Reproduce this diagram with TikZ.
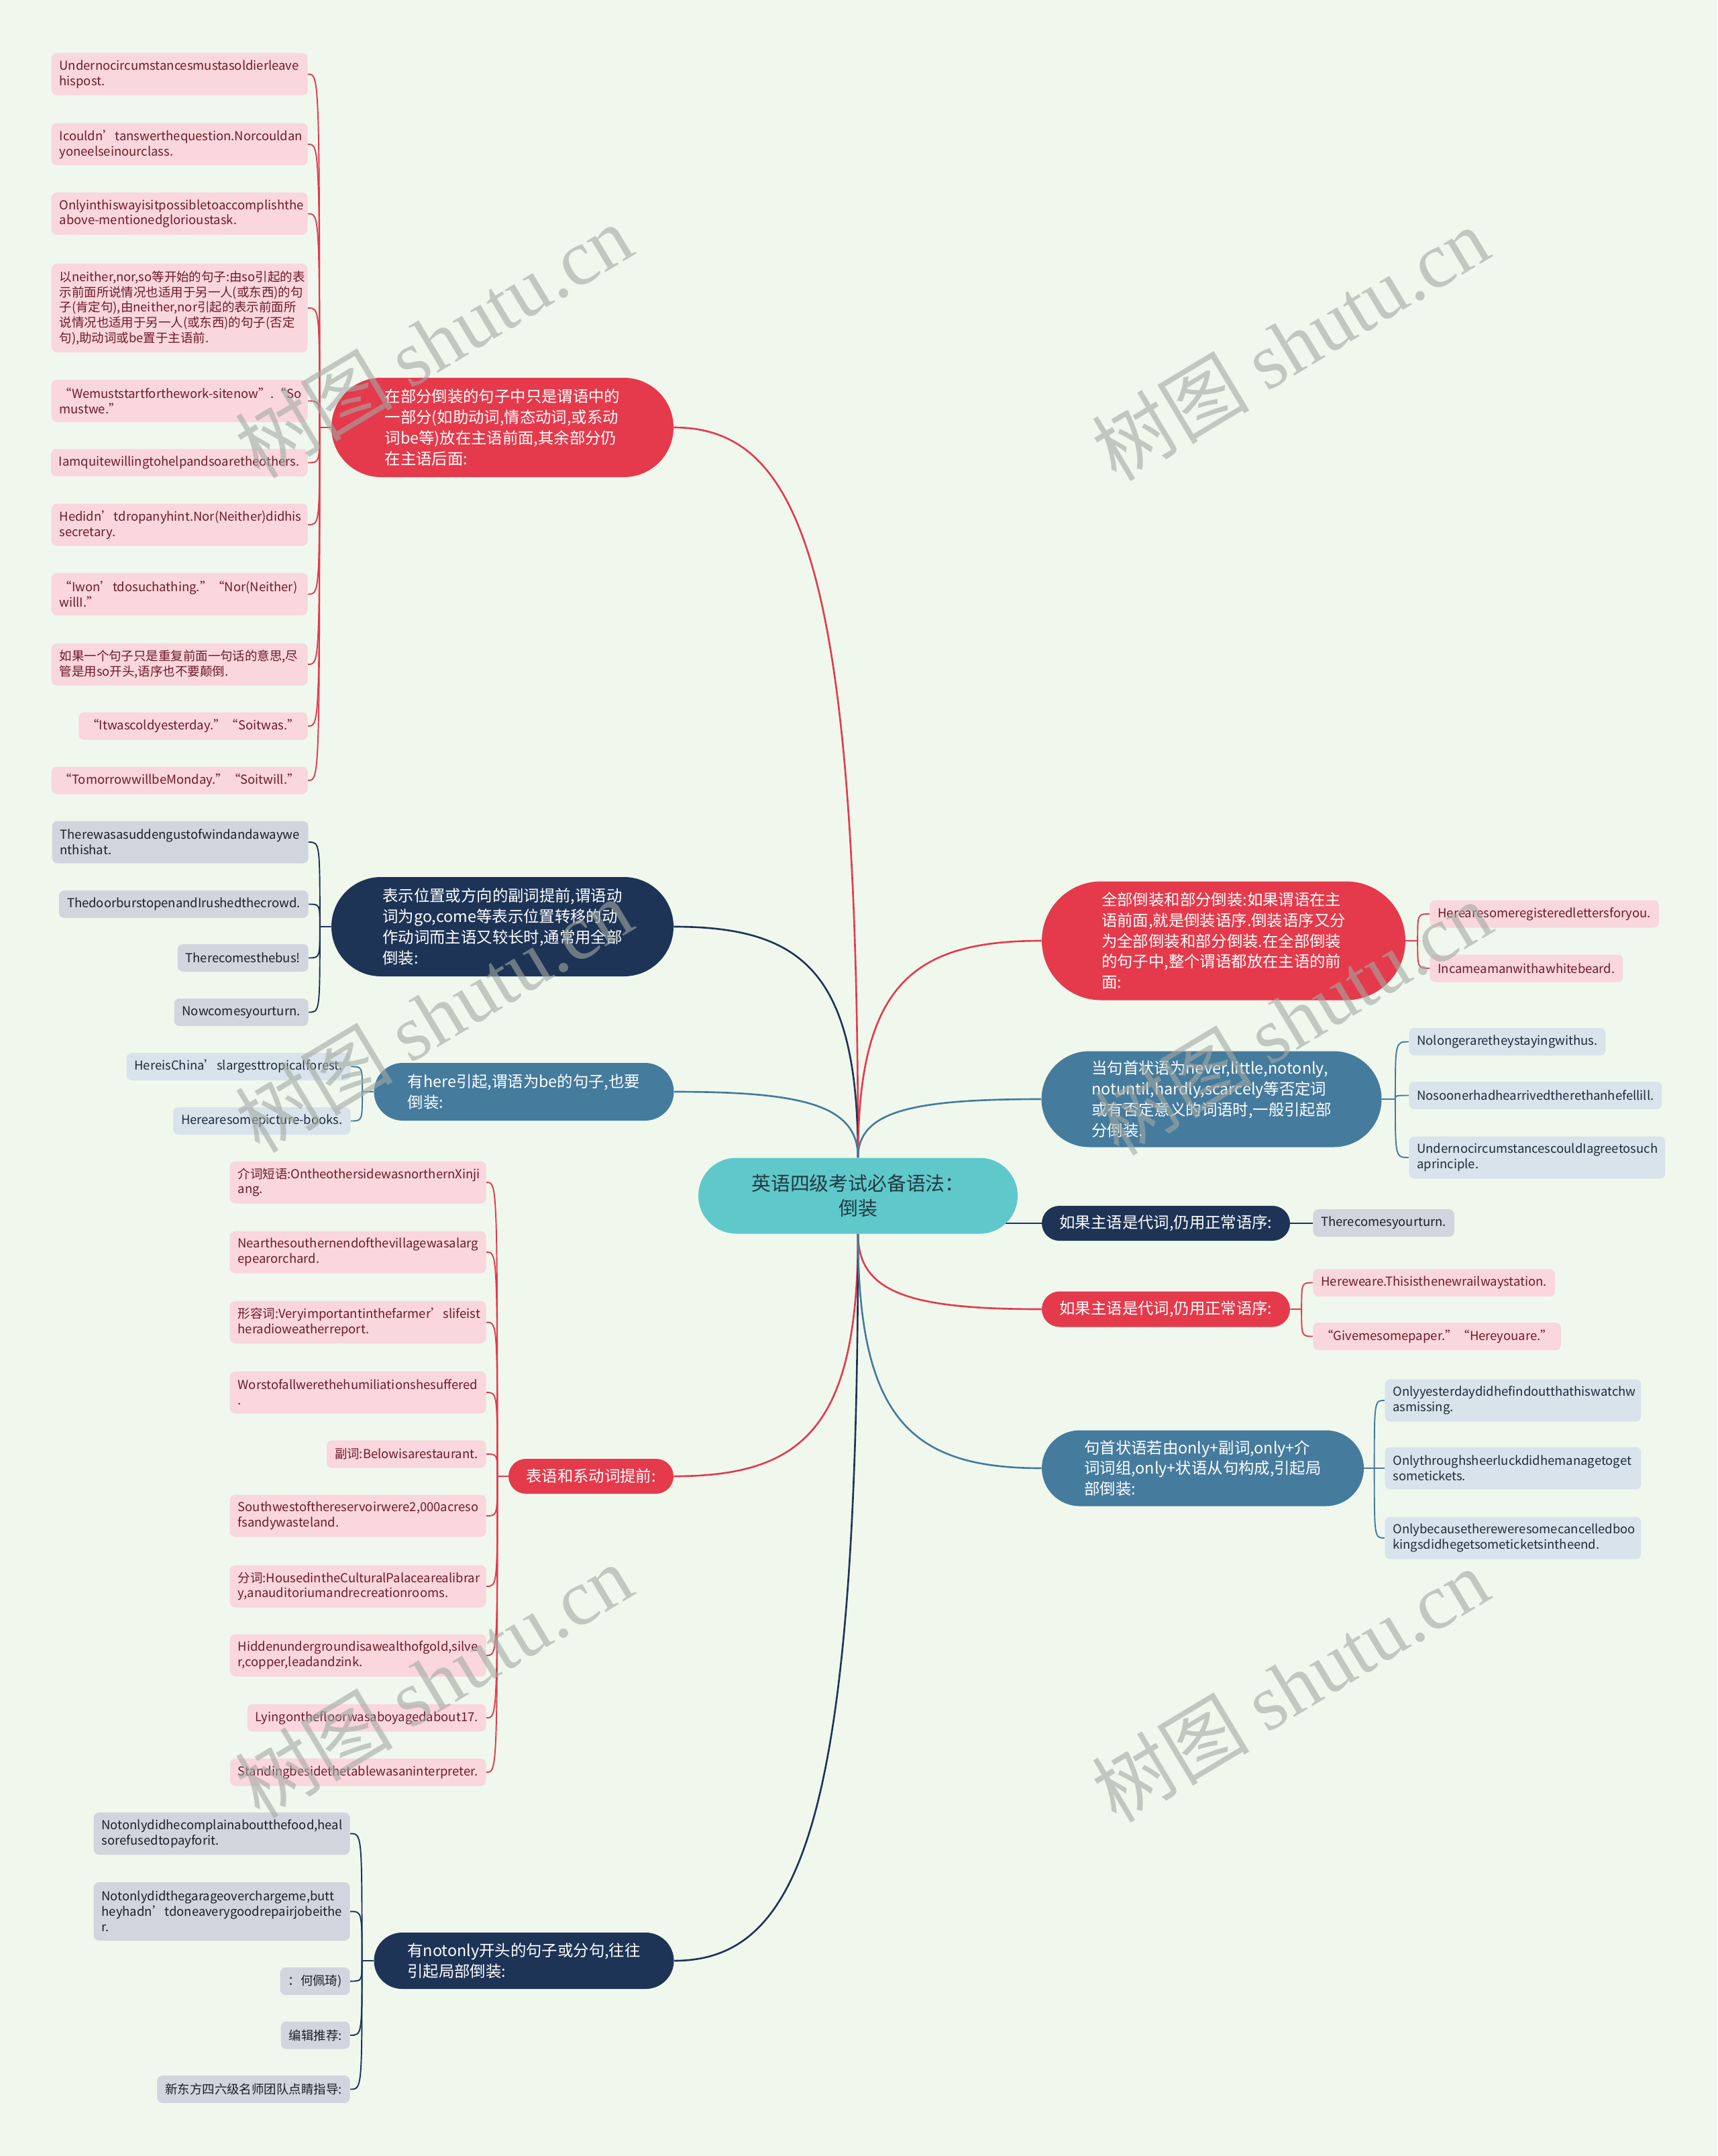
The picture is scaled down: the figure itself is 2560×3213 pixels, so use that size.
\documentclass[tikz,border=0pt]{standalone}
\usepackage{fontspec}
\setmainfont{Noto Sans CJK SC}
\newfontfamily\wmlatin{Liberation Serif}
\usetikzlibrary{calc, shapes.misc, backgrounds}

\definecolor{bgColour}{HTML}{F0F8EE}
\definecolor{rootColour}{HTML}{5FC8CB}
\definecolor{rootText}{HTML}{233A40}
\definecolor{redColour}{HTML}{E43A4B}
\definecolor{navyColour}{HTML}{1E3456}
\definecolor{steelColour}{HTML}{457B9D}
\definecolor{pinkFill}{HTML}{F9D7DC}
\definecolor{pinkText}{HTML}{6D1A28}
\definecolor{grayFill}{HTML}{D1D6DE}
\definecolor{grayText}{HTML}{1B1E28}
\definecolor{blueFill}{HTML}{D9E3EB}
\definecolor{blueText}{HTML}{1C2B3A}
\definecolor{wmColour}{HTML}{A3A9A3}

\newcommand\leaffont{\fontsize{10.5pt}{13pt}\selectfont\hyphenpenalty=10000\exhyphenpenalty=10000\relax}
\newcommand\topicfont{\fontsize{13.3pt}{17.6pt}\selectfont}
\newcommand\rootfont{\fontsize{16.4pt}{21.5pt}\selectfont}
\newcommand\wmfont{\fontsize{67pt}{70pt}\selectfont}

\tikzset{
  rootnode/.style={rounded rectangle, fill=rootColour, text=rootText, font=\rootfont,
    align=center, inner sep=0pt, minimum width=95.2mm, minimum height=22.6mm},
  topic/.style={rounded rectangle, text=white, font=\topicfont, align=left, inner sep=0pt},
  leaf/.style={rectangle, rounded corners=1.6mm, font=\leaffont, align=left,
    inner xsep=2.4mm, inner ysep=0pt, minimum height=8.2mm},
  wide/.style={text width=71.6mm},
  twoline/.style={minimum height=12.6mm},
  threeline/.style={minimum height=17.4mm},
  pinkleaf/.style={leaf, fill=pinkFill, text=pinkText},
  grayleaf/.style={leaf, fill=grayFill, text=grayText},
  blueleaf/.style={leaf, fill=blueFill, text=blueText},
  trunk/.style={line width=1.5pt},
  twig/.style={line width=1.1pt},
  watermark/.style={text=wmColour, opacity=0.6, rotate=31, font=\wmfont}
}

\begin{document}
\begin{tikzpicture}[x=0.2mm, y=-0.2mm]
    \useasboundingbox (0,0) rectangle (2560,3213);

    % Root
    \node[rootnode] (C) at (1279,1782) {英语四级考试必备语法：\\倒装};

    % Topics, left side
    \node[topic, fill=redColour, minimum width=102mm, minimum height=29.6mm] (L1) at (749,637)
        {在部分倒装的句子中只是谓语中的\\一部分(如助动词,情态动词,或系动\\词be等)放在主语前面,其余部分仍\\在主语后面:};
    \node[topic, fill=navyColour, minimum width=102mm, minimum height=29.6mm] (L2) at (749,1381)
        {表示位置或方向的副词提前,谓语动\\词为go,come等表示位置转移的动\\作动词而主语又较长时,通常用全部\\倒装:};
    \node[topic, fill=steelColour, minimum width=89.4mm, minimum height=17.2mm] (L3) at (781,1627)
        {有here引起,谓语为be的句子,也要\\倒装:};
    \node[topic, fill=redColour, minimum width=49.2mm, minimum height=10.4mm] (L4) at (881,2200)
        {表语和系动词提前:};
    \node[topic, fill=navyColour, minimum width=89.4mm, minimum height=16.8mm] (L5) at (781,2922)
        {有notonly开头的句子或分句,往往\\引起局部倒装:};

    % Topics, right side
    \node[topic, fill=redColour, minimum width=108.4mm, minimum height=35.4mm] (R1) at (1824,1402)
        {全部倒装和部分倒装:如果谓语在主\\语前面,就是倒装语序.倒装语序又分\\为全部倒装和部分倒装.在全部倒装\\的句子中,整个谓语都放在主语的前\\面:};
    \node[topic, fill=steelColour, minimum width=101.4mm, minimum height=28.6mm] (R2) at (1806,1638)
        {当句首状语为never,little,notonly,\\notuntil,hardly,scarcely等否定词\\或有否定意义的词语时,一般引起部\\分倒装.};
    \node[topic, fill=navyColour, minimum width=74mm, minimum height=10.4mm] (R3) at (1738,1823)
        {如果主语是代词,仍用正常语序:};
    \node[topic, fill=redColour, minimum width=74mm, minimum height=10.6mm] (R4) at (1738,1951)
        {如果主语是代词,仍用正常语序:};
    \node[topic, fill=steelColour, minimum width=96mm, minimum height=22.6mm] (R5) at (1793,2188)
        {句首状语若由only+副词,only+介\\词词组,only+状语从句构成,引起局\\部倒装:};

    % Leaves of L1
    \node[pinkleaf, wide, twoline, anchor=east] (a1) at (459,110.5) {Undernocircumstancesmustasoldierleave\\hispost.};
    \node[pinkleaf, wide, twoline, anchor=east] (a2) at (459,215) {Icouldn’tanswerthequestion.Norcouldan\\yoneelseinourclass.};
    \node[pinkleaf, wide, twoline, anchor=east] (a3) at (459,318.5) {Onlyinthiswayisitpossibletoaccomplishthe\\above-mentionedglorioustask.};
    \node[pinkleaf, wide, minimum height=26.4mm, anchor=east] (a4) at (459,459)
        {以neither,nor,so等开始的句子:由so引起的表\\示前面所说情况也适用于另一人(或东西)的句\\子(肯定句),由neither,nor引起的表示前面所\\说情况也适用于另一人(或东西)的句子(否定\\句),助动词或be置于主语前.};
    \node[pinkleaf, wide, twoline, anchor=east] (a5) at (459,597.5) {\mbox{“Wemuststartforthework-sitenow”.“So}\\mustwe.”};
    \node[pinkleaf, anchor=east] (a6) at (459,689.5) {Iamquitewillingtohelpandsoaretheothers.};
    \node[pinkleaf, wide, twoline, anchor=east] (a7) at (459,782) {Hedidn’tdropanyhint.Nor(Neither)didhis\\secretary.};
    \node[pinkleaf, wide, twoline, anchor=east] (a8) at (459,885.5) {“Iwon’tdosuchathing.”“Nor(Neither)\\willI.”};
    \node[pinkleaf, wide, twoline, anchor=east] (a9) at (459,990) {如果一个句子只是重复前面一句话的意思,尽\\管是用so开头,语序也不要颠倒.};
    \node[pinkleaf, anchor=east] (a10) at (459,1082) {“Itwascoldyesterday.”“Soitwas.”};
    \node[pinkleaf, anchor=east] (a11) at (459,1163) {“TomorrowwillbeMonday.”“Soitwill.”};

    % Leaves of L2
    \node[grayleaf, wide, twoline, anchor=east] (b1) at (460,1255) {Therewasasuddengustofwindandawaywe\\nthishat.};
    \node[grayleaf, anchor=east] (b2) at (460,1347.5) {ThedoorburstopenandIrushedthecrowd.};
    \node[grayleaf, anchor=east] (b3) at (460,1427.5) {Therecomesthebus!};
    \node[grayleaf, anchor=east] (b4) at (460,1508.5) {Nowcomesyourturn.};

    % Leaves of L3
    \node[blueleaf, anchor=east] (c1) at (523,1589.5) {HereisChina’slargesttropicalforest.};
    \node[blueleaf, anchor=east] (c2) at (523,1670.5) {Herearesomepicture-books.};

    % Leaves of L4
    \node[pinkleaf, wide, twoline, anchor=east] (d1) at (725,1762) {介词短语:OntheothersidewasnorthernXinji\\ang.};
    \node[pinkleaf, wide, twoline, anchor=east] (d2) at (725,1866) {Nearthesouthernendofthevillagewasalarg\\epearorchard.};
    \node[pinkleaf, wide, twoline, anchor=east] (d3) at (725,1970.5) {形容词:Veryimportantinthefarmer’slifeist\\heradioweatherreport.};
    \node[pinkleaf, wide, twoline, anchor=east] (d4) at (725,2075) {Worstofallwerethehumiliationshesuffered\\.};
    \node[pinkleaf, anchor=east] (d5) at (725,2167) {副词:Belowisarestaurant.};
    \node[pinkleaf, wide, twoline, anchor=east] (d6) at (725,2259) {Southwestofthereservoirwere2,000acreso\\fsandywasteland.};
    \node[pinkleaf, wide, twoline, anchor=east] (d7) at (725,2364) {分词:HousedintheCulturalPalacearealibrar\\y,anauditoriumandrecreationrooms.};
    \node[pinkleaf, wide, twoline, anchor=east] (d8) at (725,2467) {Hiddenundergroundisawealthofgold,silve\\r,copper,leadandzink.};
    \node[pinkleaf, anchor=east] (d9) at (725,2560) {Lyingonthefloorwasaboyagedabout17.};
    \node[pinkleaf, anchor=east] (d10) at (725,2641) {Standingbesidethetablewasaninterpreter.};

    % Leaves of L5
    \node[grayleaf, wide, twoline, anchor=east] (e1) at (522,2732.5) {Notonlydidhecomplainaboutthefood,heal\\sorefusedtopayforit.};
    \node[grayleaf, wide, threeline, anchor=east] (e2) at (522,2848.5) {Notonlydidthegarageoverchargeme,butt\\heyhadn’tdoneaverygoodrepairjobeithe\\r.};
    \node[grayleaf, anchor=east] (e3) at (522,2952.5) {：何佩琦)};
    \node[grayleaf, anchor=east] (e4) at (522,3033) {编辑推荐:};
    \node[grayleaf, anchor=east] (e5) at (522,3113.5) {新东方四六级名师团队点睛指导:};

    % Leaves of R1 .. R5
    \node[pinkleaf, anchor=west] (f1) at (2131,1362) {Herearesomeregisteredlettersforyou.};
    \node[pinkleaf, anchor=west] (f2) at (2131,1443) {Incameamanwithawhitebeard.};
    \node[blueleaf, anchor=west] (g1) at (2100,1552.5) {Nolongeraretheystayingwithus.};
    \node[blueleaf, anchor=west] (g2) at (2100,1632.5) {Nosoonerhadhearrivedtherethanhefellill.};
    \node[blueleaf, wide, twoline, anchor=west] (g3) at (2100,1725) {UndernocircumstancescouldIagreetosuch\\aprinciple.};
    \node[grayleaf, anchor=west] (h1) at (1957,1822.5) {Therecomesyourturn.};
    \node[pinkleaf, anchor=west] (k1) at (1957,1911.5) {Hereweare.Thisisthenewrailwaystation.};
    \node[pinkleaf, anchor=west] (k2) at (1957,1991.5) {“Givemesomepaper.”“Hereyouare.”};
    \node[blueleaf, wide, twoline, anchor=west] (m1) at (2064,2087) {Onlyyesterdaydidhefindoutthathiswatchw\\asmissing.};
    \node[blueleaf, wide, twoline, anchor=west] (m2) at (2064,2188) {Onlythroughsheerluckdidhemanagetoget\\sometickets.};
    \node[blueleaf, wide, twoline, anchor=west] (m3) at (2064,2292) {Onlybecausethereweresomecancelledboo\\kingsdidhegetsometicketsintheend.};

    \begin{scope}[on background layer]
        \fill[bgColour] (0,0) rectangle (2560,3213);

        % Root to topics
        \foreach \t/\a/\s/\c in {L1/east/north/redColour, L2/east/north/navyColour, L3/east/north/steelColour,
                                 R1/west/north/redColour, R2/west/north/steelColour,
                                 L4/east/south/redColour, L5/east/south/navyColour,
                                 R4/west/south/redColour, R5/west/south/steelColour}
            \draw[trunk, \c] (C.\s) .. controls ($(C.\s)!0.8!(C.\s |- \t.\a)$) and ($(\t.\a)!0.7!(C.\s |- \t.\a)$) .. (\t.\a);
        \draw[trunk, navyColour] (C.center |- R3.west) -- (R3.west);

        % Brackets on the left
        \coordinate (L1b) at ($(L1.west)!0.5!(L1.west -| a1.east)$);
        \draw[twig, redColour] (L1.west) -- (L1b);
        \foreach \i in {1,...,11}
            \draw[twig, redColour] (L1b) .. controls (L1b |- a\i.east) .. (a\i.east);

        \coordinate (L2b) at ($(L2.west)!0.5!(L2.west -| b1.east)$);
        \draw[twig, navyColour] (L2.west) -- (L2b);
        \foreach \i in {1,...,4}
            \draw[twig, navyColour] (L2b) .. controls (L2b |- b\i.east) .. (b\i.east);

        \coordinate (L3b) at ($(L3.west)!0.5!(L3.west -| c1.east)$);
        \draw[twig, steelColour] (L3.west) -- (L3b);
        \foreach \i in {1,2}
            \draw[twig, steelColour] (L3b) .. controls (L3b |- c\i.east) .. (c\i.east);

        \coordinate (L4b) at ($(L4.west)!0.5!(L4.west -| d1.east)$);
        \draw[twig, redColour] (L4.west) -- (L4b);
        \foreach \i in {1,...,10}
            \draw[twig, redColour] (L4b) .. controls (L4b |- d\i.east) .. (d\i.east);

        \coordinate (L5b) at ($(L5.west)!0.5!(L5.west -| e1.east)$);
        \draw[twig, navyColour] (L5.west) -- (L5b);
        \foreach \i in {1,...,5}
            \draw[twig, navyColour] (L5b) .. controls (L5b |- e\i.east) .. (e\i.east);

        % Brackets on the right
        \coordinate (R1b) at ($(R1.east)!0.5!(R1.east -| f1.west)$);
        \draw[twig, redColour] (R1.east) -- (R1b);
        \foreach \i in {1,2}
            \draw[twig, redColour] (R1b) .. controls (R1b |- f\i.west) .. (f\i.west);

        \coordinate (R2b) at ($(R2.east)!0.5!(R2.east -| g1.west)$);
        \draw[twig, steelColour] (R2.east) -- (R2b);
        \foreach \i in {1,...,3}
            \draw[twig, steelColour] (R2b) .. controls (R2b |- g\i.west) .. (g\i.west);

        \draw[twig, navyColour] (R3.east) -- (R3.east -| h1.west);

        \coordinate (R4b) at ($(R4.east)!0.5!(R4.east -| k1.west)$);
        \draw[twig, redColour] (R4.east) -- (R4b);
        \foreach \i in {1,2}
            \draw[twig, redColour] (R4b) .. controls (R4b |- k\i.west) .. (k\i.west);

        \coordinate (R5b) at ($(R5.east)!0.5!(R5.east -| m1.west)$);
        \draw[twig, steelColour] (R5.east) -- (R5b);
        \foreach \i in {1,...,3}
            \draw[twig, steelColour] (R5b) .. controls (R5b |- m\i.west) .. (m\i.west);
    \end{scope}

    % Watermarks
    \node[watermark] (wm1) at (646,508) {树图 {\wmlatin shutu.cn}};
    \node[watermark] (wm2) at (1923,512) {树图 {\wmlatin shutu.cn}};
    \node[watermark] (wm3) at (646,1513) {树图 {\wmlatin shutu.cn}};
    \node[watermark] (wm4) at (1927,1517) {树图 {\wmlatin shutu.cn}};
    \node[watermark] (wm5) at (646,2505) {树图 {\wmlatin shutu.cn}};
    \node[watermark] (wm6) at (1923,2511) {树图 {\wmlatin shutu.cn}};
\end{tikzpicture}
\end{document}
